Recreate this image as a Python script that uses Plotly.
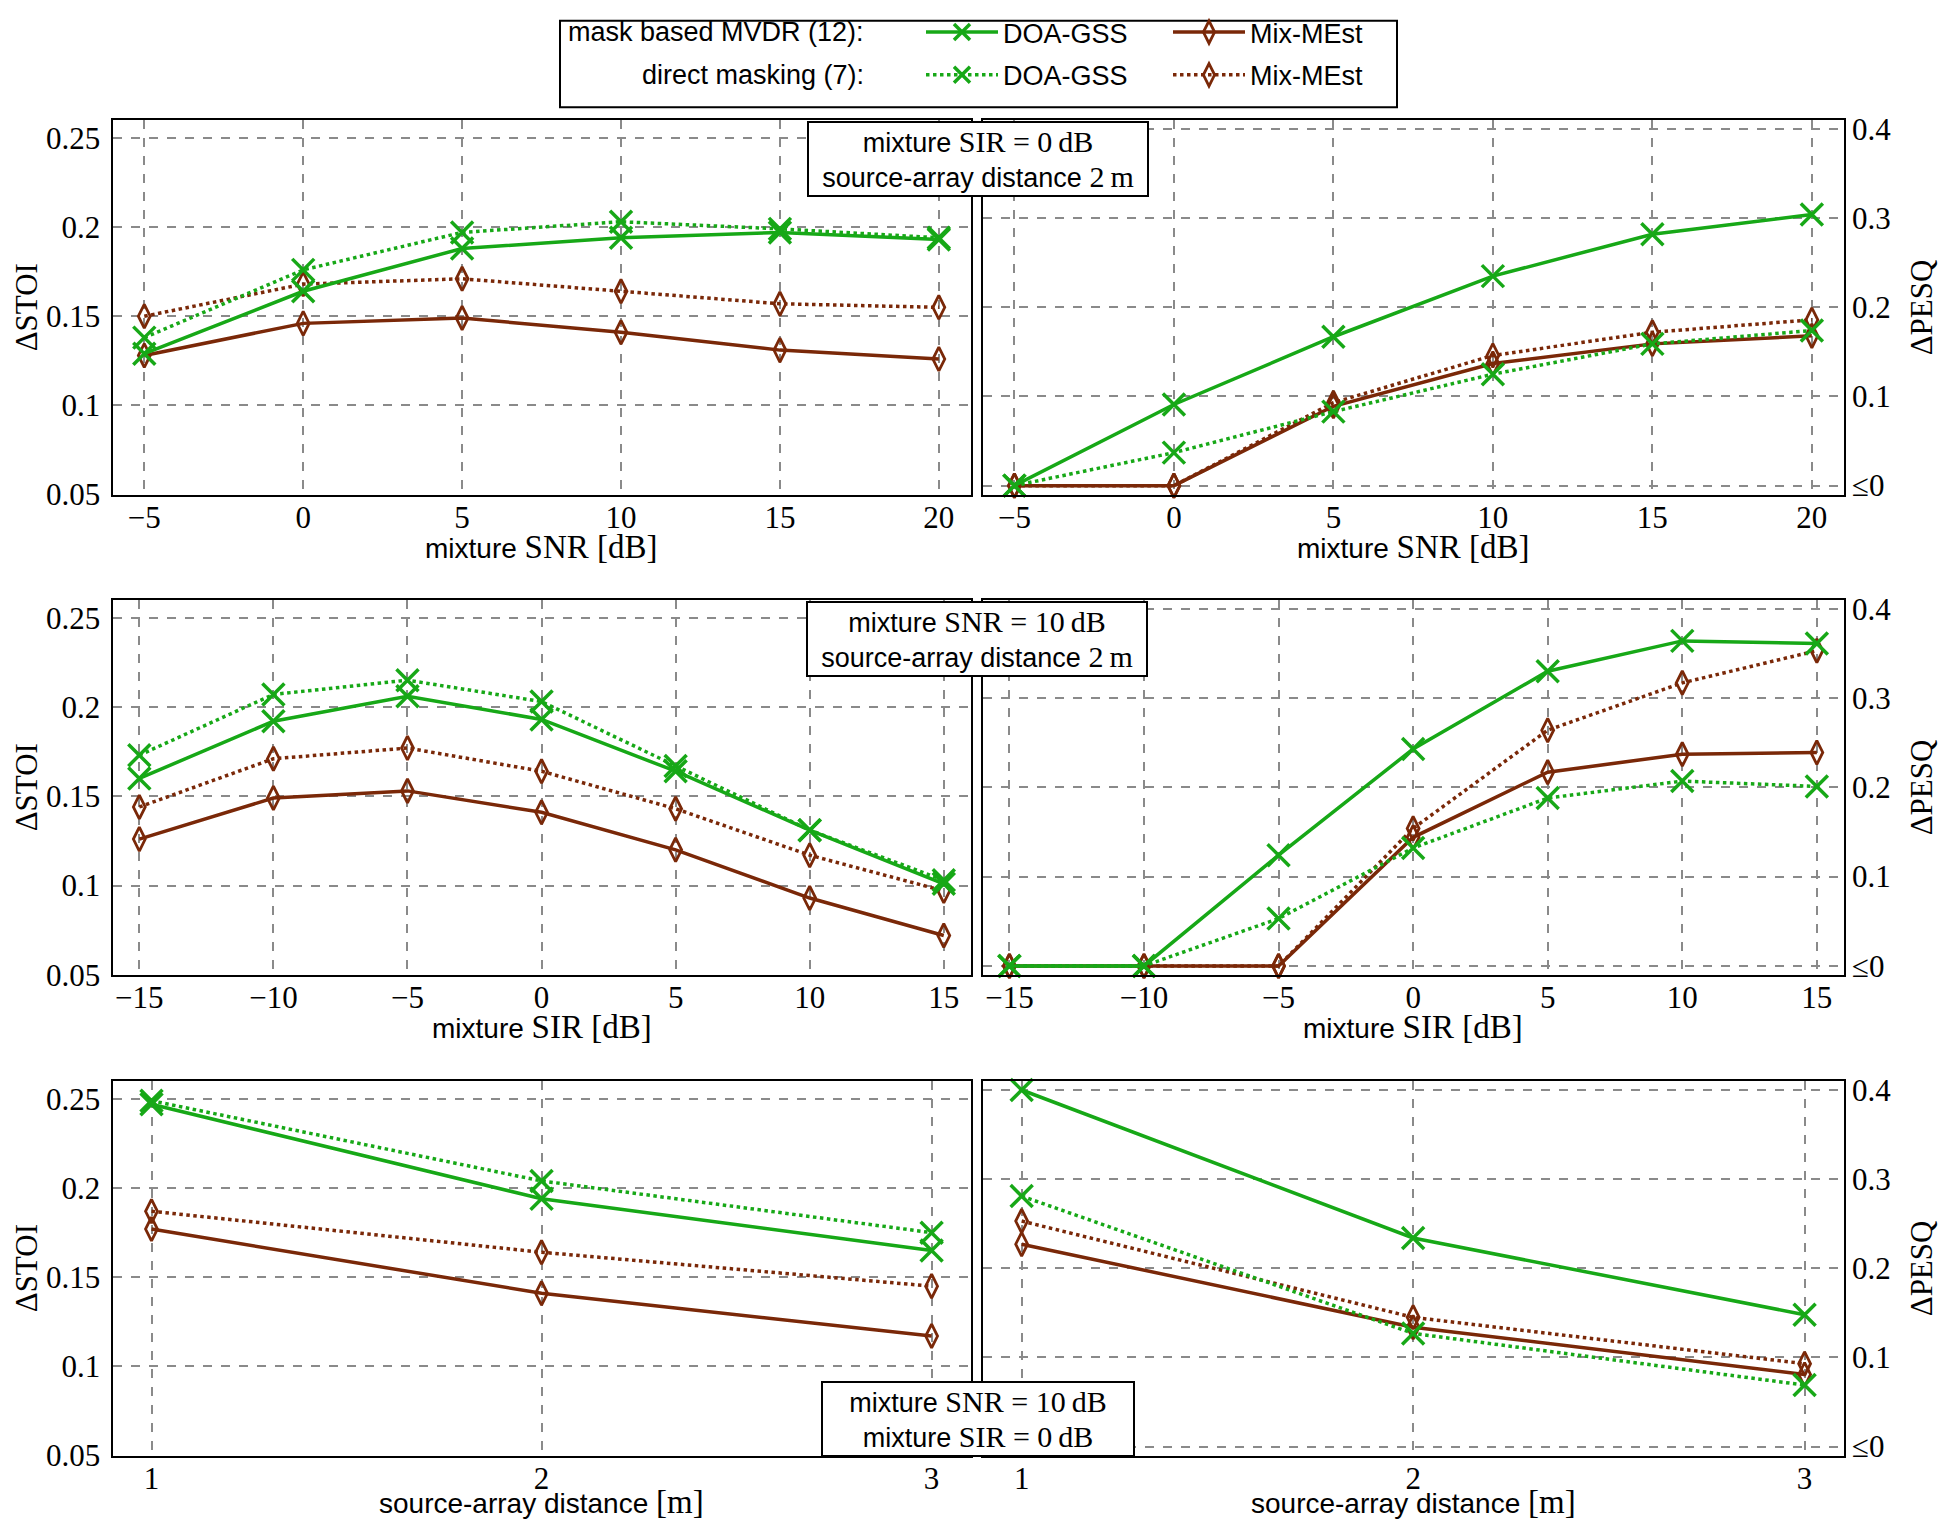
import plotly.graph_objects as go

# ---------------- data ----------------
snr = [-5, 0, 5, 10, 15, 20]
snr_ticktext = ["\u22125", "0", "5", "10", "15", "20"]
stoi_snr_mvdr_doa = [0.129, 0.164, 0.188, 0.194, 0.197, 0.193]
stoi_snr_dm_doa = [0.138, 0.176, 0.197, 0.203, 0.199, 0.194]
stoi_snr_mvdr_mix = [0.128, 0.146, 0.149, 0.141, 0.131, 0.126]
stoi_snr_dm_mix = [0.150, 0.168, 0.171, 0.164, 0.157, 0.155]
pesq_snr_mvdr_doa = [0.0, 0.091, 0.167, 0.235, 0.282, 0.304]
pesq_snr_dm_doa = [0.0, 0.037, 0.083, 0.125, 0.159, 0.174]
pesq_snr_mvdr_mix = [0.0, 0.0, 0.089, 0.137, 0.159, 0.168]
pesq_snr_dm_mix = [0.0, 0.0, 0.093, 0.146, 0.172, 0.186]

sir = [-15, -10, -5, 0, 5, 10, 15]
sir_ticktext = ["\u221215", "\u221210", "\u22125", "0", "5", "10", "15"]
stoi_sir_mvdr_doa = [0.160, 0.192, 0.206, 0.193, 0.164, 0.131, 0.101]
stoi_sir_dm_doa = [0.173, 0.207, 0.215, 0.203, 0.167, 0.131, 0.103]
stoi_sir_mvdr_mix = [0.126, 0.149, 0.153, 0.141, 0.120, 0.093, 0.072]
stoi_sir_dm_mix = [0.144, 0.171, 0.177, 0.164, 0.143, 0.117, 0.097]
pesq_sir_mvdr_doa = [0.0, 0.0, 0.124, 0.243, 0.330, 0.364, 0.361]
pesq_sir_dm_doa = [0.0, 0.0, 0.053, 0.132, 0.188, 0.207, 0.201]
pesq_sir_mvdr_mix = [0.0, 0.0, 0.0, 0.144, 0.217, 0.237, 0.239]
pesq_sir_dm_mix = [0.0, 0.0, 0.0, 0.154, 0.264, 0.317, 0.353]

dist = [1, 2, 3]
dist_ticktext = ["1", "2", "3"]
stoi_dist_mvdr_doa = [0.247, 0.194, 0.165]
stoi_dist_dm_doa = [0.249, 0.204, 0.175]
stoi_dist_mvdr_mix = [0.177, 0.141, 0.117]
stoi_dist_dm_mix = [0.187, 0.164, 0.145]
pesq_dist_mvdr_doa = [0.400, 0.234, 0.148]
pesq_dist_dm_doa = [0.281, 0.127, 0.069]
pesq_dist_mvdr_mix = [0.227, 0.134, 0.081]
pesq_dist_dm_mix = [0.253, 0.145, 0.093]

stoi_ticks = [0.05, 0.1, 0.15, 0.2, 0.25]
stoi_ticktext = ["0.05", "0.1", "0.15", "0.2", "0.25"]
pesq_ticks = [0.0, 0.1, 0.2, 0.3, 0.4]
pesq_ticktext = ["\u22640", "0.1", "0.2", "0.3", "0.4"]

# ---------------- style ----------------
PAGE_MARGIN = 8          # default body margin of the html page
W, H = 1930, 1531
VSCALE, VOFF = 0.9845, 6.6   # observed vertical mapping of the captured page
GREEN = "#17a817"
BROWN = "#7a2808"
SERIF = "Liberation Serif"
SANS = "Liberation Sans"
GRID = "#8a8a8a"


def px(x):
    """target picture x -> paper fraction"""
    return (x - PAGE_MARGIN) / W


def py(y):
    """target picture y (from top) -> paper fraction"""
    yp = (y - VOFF) / VSCALE
    return 1 - (yp - PAGE_MARGIN) / H


def serif(t, size):
    return f'<span style="font-family:{SERIF};font-size:{size}px">{t}</span>'


xdomL = [px(112.5), px(970.6)]
xdomR = [px(982.5), px(1843.75)]
ydoms = [[py(491), py(115)], [py(973.3), py(596.7)], [py(1456), py(1080)]]
xranges = [[-6, 21], [-16, 16], [0.9, 3.1]]
xticks = [(snr, snr_ticktext), (sir, sir_ticktext), (dist, dist_ticktext)]

fig = go.Figure()

panels = [
    (0, 0, snr, [stoi_snr_mvdr_doa, stoi_snr_mvdr_mix, stoi_snr_dm_doa, stoi_snr_dm_mix]),
    (0, 1, snr, [pesq_snr_mvdr_doa, pesq_snr_mvdr_mix, pesq_snr_dm_doa, pesq_snr_dm_mix]),
    (1, 0, sir, [stoi_sir_mvdr_doa, stoi_sir_mvdr_mix, stoi_sir_dm_doa, stoi_sir_dm_mix]),
    (1, 1, sir, [pesq_sir_mvdr_doa, pesq_sir_mvdr_mix, pesq_sir_dm_doa, pesq_sir_dm_mix]),
    (2, 0, dist, [stoi_dist_mvdr_doa, stoi_dist_mvdr_mix, stoi_dist_dm_doa, stoi_dist_dm_mix]),
    (2, 1, dist, [pesq_dist_mvdr_doa, pesq_dist_mvdr_mix, pesq_dist_dm_doa, pesq_dist_dm_mix]),
]

styles = [
    dict(name="DOA-GSS", color=GREEN, dash="solid", symbol="x-thin-open", size=22, lw=3.5, legend="legend", rank=1),
    dict(name="Mix-MEst", color=BROWN, dash="solid", symbol="diamond-tall-open", size=17, lw=2.8, legend="legend", rank=2),
    dict(name="DOA-GSS", color=GREEN, dash="dot", symbol="x-thin-open", size=22, lw=3.5, legend="legend2", rank=1),
    dict(name="Mix-MEst", color=BROWN, dash="dot", symbol="diamond-tall-open", size=17, lw=2.8, legend="legend2", rank=2),
]
draw_order = [1, 3, 2, 0]

TICKFONT = dict(family=SERIF, size=31, color="black")

for i, (r, c, xs, ys) in enumerate(panels):
    n = i + 1
    xa = "x" if n == 1 else f"x{n}"
    ya = "y" if n == 1 else f"y{n}"
    for k in draw_order:
        s = styles[k]
        fig.add_trace(go.Scatter(
            x=xs, y=ys[k], xaxis=xa, yaxis=ya, mode="lines+markers",
            name=s["name"], legend=s["legend"], legendrank=s["rank"], showlegend=(n == 1),
            line=dict(color=s["color"], width=3.5, dash=s["dash"]),
            marker=dict(symbol=s["symbol"], size=s["size"], color=s["color"],
                        line=dict(color=s["color"], width=s["lw"])),
            cliponaxis=False,
        ))
    axkey = "xaxis" if n == 1 else f"xaxis{n}"
    aykey = "yaxis" if n == 1 else f"yaxis{n}"
    tv, tt = xticks[r]
    fig.layout[axkey] = dict(
        domain=xdomL if c == 0 else xdomR, anchor=ya, range=xranges[r],
        tickvals=tv, ticktext=tt, showgrid=True, gridcolor=GRID, griddash="dash",
        gridwidth=1.5, zeroline=False, showline=True, linecolor="black", linewidth=2,
        mirror=True, ticks="", ticklabelstandoff=-6, tickfont=TICKFONT,
    )
    if c == 0:
        yr, ytv, ytt, side, so = [0.05, 0.26], stoi_ticks, stoi_ticktext, "left", 4
    else:
        yr, ytv, ytt, side, so = [-0.01, 0.41], pesq_ticks, pesq_ticktext, "right", 0
    fig.layout[aykey] = dict(
        domain=ydoms[r], anchor=xa, range=yr, side=side,
        tickvals=ytv, ticktext=ytt, showgrid=True, gridcolor=GRID, griddash="dash",
        gridwidth=1.5, zeroline=False, showline=True, linecolor="black", linewidth=2,
        mirror=True, ticks="", ticklabelstandoff=so, tickfont=TICKFONT,
    )

annotations = []
# y-axis titles
for r in range(3):
    yc = (ydoms[r][0] + ydoms[r][1]) / 2
    annotations.append(dict(text="\u0394STOI", x=px(26), y=yc, xref="paper", yref="paper",
                            textangle=-90, showarrow=False, xanchor="center", yanchor="middle",
                            font=dict(family=SERIF, size=31, color="black")))
    annotations.append(dict(text="\u0394PESQ", x=px(1921), y=yc, xref="paper", yref="paper",
                            textangle=-90, showarrow=False, xanchor="center", yanchor="middle",
                            font=dict(family=SERIF, size=31, color="black")))

# x-axis titles
xtitles = [
    "mixture " + serif("SNR [dB]", 33),
    "mixture " + serif("SIR [dB]", 33),
    "source-array distance " + serif("[m]", 33),
]
xtitle_y = [543.5, 1026, 1503]
for r in range(3):
    for dom in (xdomL, xdomR):
        annotations.append(dict(text=xtitles[r], x=(dom[0] + dom[1]) / 2, y=py(xtitle_y[r]),
                                xref="paper", yref="paper", showarrow=False,
                                xanchor="center", yanchor="middle",
                                font=dict(family=SANS, size=28, color="black")))

# condition boxes
boxes = [
    ("mixture " + serif("SIR = 0\u2009dB", 30) + "<br>source-array distance " + serif("2\u2009m", 30),
     977.5, 116, "top", 336),
    ("mixture " + serif("SNR = 10\u2009dB", 30) + "<br>source-array distance " + serif("2\u2009m", 30),
     977, 598, "top", 336),
    ("mixture " + serif("SNR = 10\u2009dB", 30) + "<br>mixture " + serif("SIR = 0\u2009dB", 30),
     978.5, 1457, "bottom", 308),
]
for t, bx, by, anc, bw in boxes:
    annotations.append(dict(text=t, x=px(bx), y=py(by), xref="paper", yref="paper",
                            showarrow=False, xanchor="center", yanchor=anc,
                            width=bw, height=70, align="center", valign="middle",
                            bgcolor="white", bordercolor="black", borderwidth=2, borderpad=1,
                            font=dict(family=SANS, size=27, color="black")))

# legend row labels
ROW1_Y, ROW2_Y = 27, 70
annotations.append(dict(text="mask based MVDR (12):", x=px(866), y=py(ROW1_Y), xref="paper", yref="paper",
                        showarrow=False, xanchor="right", yanchor="middle",
                        font=dict(family=SANS, size=27, color="black")))
annotations.append(dict(text="direct masking (7):", x=px(866), y=py(ROW2_Y), xref="paper", yref="paper",
                        showarrow=False, xanchor="right", yanchor="middle",
                        font=dict(family=SANS, size=27, color="black")))

legend_common = dict(orientation="h", xanchor="left", yanchor="middle", bgcolor="rgba(0,0,0,0)",
                     borderwidth=0, font=dict(family=SANS, size=27, color="black"),
                     itemwidth=72, entrywidth=160, tracegroupgap=0, traceorder="normal")

fig.update_layout(
    width=W, height=H, margin=dict(l=0, r=0, t=0, b=0),
    paper_bgcolor="white", plot_bgcolor="white",
    annotations=annotations,
    legend=dict(x=px(921), y=py(ROW1_Y), **legend_common),
    legend2=dict(x=px(921), y=py(ROW2_Y), **legend_common),
    shapes=[dict(type="rect", xref="paper", yref="paper", x0=px(560), x1=px(1397),
                 y0=py(102), y1=min(py(2), 0.9995), line=dict(color="black", width=2),
                 fillcolor="rgba(0,0,0,0)")],
    showlegend=True,
)

fig.write_html("out.html", config={"displayModeBar": False})
